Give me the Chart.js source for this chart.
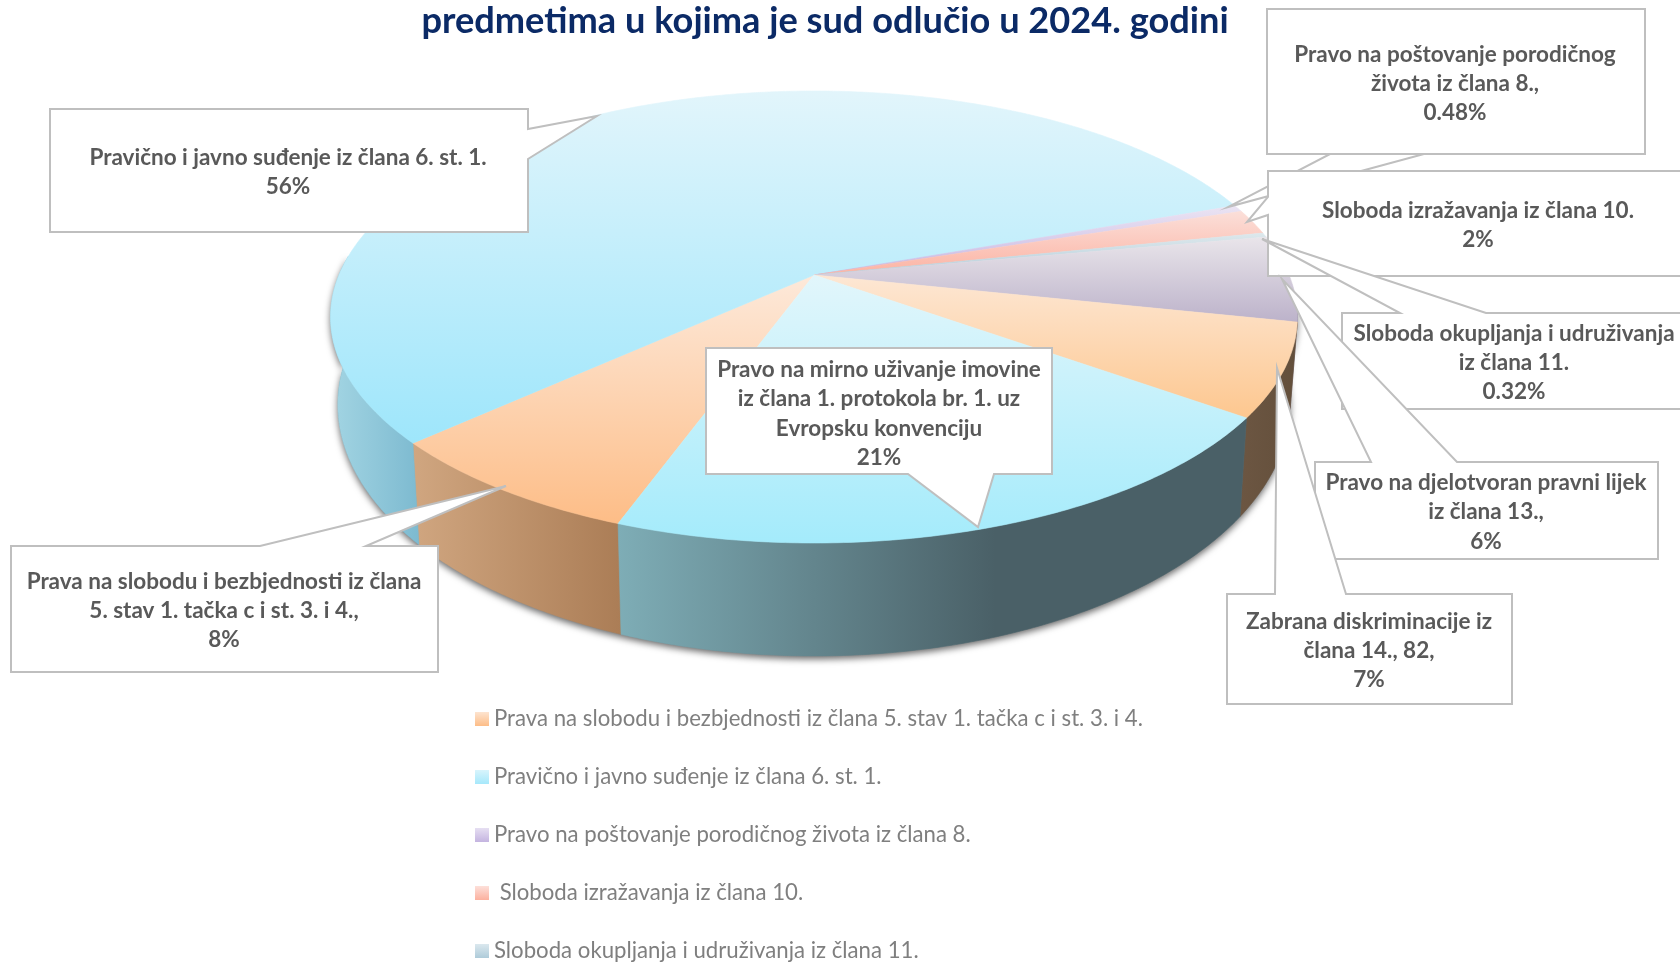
<!DOCTYPE html>
<html>
<head>
<meta charset="utf-8">
<style>
  html, body { margin: 0; padding: 0; background: #fff; overflow: hidden; }
  canvas { display: block; }
</style>
<script src="https://cdn.jsdelivr.net/npm/chart.js@4/dist/chart.umd.js"></script>
</head>
<body>
<canvas id="pieChart" width="1680" height="963"></canvas>
<script>
var titleText = 'predmetima u kojima je sud odlučio u 2024. godini';

var categories = [
  'Prava na slobodu i bezbjednosti iz člana 5. stav 1. tačka c i st. 3. i 4.',
  'Pravično i javno suđenje iz člana 6. st. 1.',
  'Pravo na poštovanje porodičnog života iz člana 8.',
  ' Sloboda izražavanja iz člana 10.',
  'Sloboda okupljanja i udruživanja iz člana 11.',
  'Pravo na djelotvoran pravni lijek iz člana 13.',
  'Zabrana diskriminacije iz člana 14., 82',
  'Pravo na mirno uživanje imovine iz člana 1. protokola br. 1. uz Evropsku konvenciju'
];
// slice sizes; the printed labels are rounded
var sliceValues = [7.7, 56.3, 0.48, 1.8, 0.32, 6.2, 6.6, 20.6];
var percentLabels = ['8%', '56%', '0.48%', '2%', '0.32%', '6%', '7%', '21%'];

// wrapped callout text, same order as categories
var calloutLines = [
  ['Prava na slobodu i bezbjednosti iz člana', '5. stav 1. tačka c i st. 3. i 4.,'],
  ['Pravično i javno suđenje iz člana 6. st. 1.'],
  ['Pravo na poštovanje porodičnog', 'života iz člana 8.,'],
  ['Sloboda izražavanja iz člana 10.'],
  ['Sloboda okupljanja i udruživanja', 'iz člana 11.'],
  ['Pravo na djelotvoran pravni lijek', 'iz člana 13.,'],
  ['Zabrana diskriminacije iz', 'člana 14., 82,'],
  ['Pravo na mirno uživanje imovine', 'iz člana 1. protokola br. 1. uz', 'Evropsku konvenciju']
];

// slice colours
var topLight = ['#fde9da', '#e2f5fb', '#ebe4f3', '#fbdfd9', '#dde8ec', '#e9e5ea', '#fde7d4', '#e2f6fb'];
var topDark = ['#fdbd87', '#9ee6fb', '#c6b6e2', '#fcb3a3', '#b4cedb', '#bcb2ca', '#fdc78f', '#a4ebfb'];
var sideLeft = ['#d0a680', '#a3d5e3', '#8f80a0', '#b08070', '#8aa0aa', '#8a8090', '#6c5642', '#7eadb6'];
var sideRight = ['#ab7d56', '#7dbad0', '#8f80a0', '#b08070', '#8aa0aa', '#8a8090', '#634f3b', '#4a6067'];

// legend swatches
var swatchLight = ['#fde4d0', '#d8f4fc', '#e6dff2', '#fde0da', '#dbe8ee'];
var swatchDark = ['#fdbd87', '#a6e8fb', '#c4b4e0', '#fcb09e', '#aecbd9'];

// callout boxes in draw order: index, box, pointer base and tip, text centre and line ys
var callouts = [
  { i: 1, box: [50, 109, 528, 232], base: [[528, 129], [528, 159]], tip: [597, 116], tx: 288, ys: [158, 187] },
  { i: 2, box: [1267, 9, 1645, 154], base: [[1330, 154], [1424, 154]], tip: [1228, 207], tx: 1455, ys: [55, 84, 113] },
  { i: 3, box: [1268, 171, 1690, 276], base: [[1268, 197], [1268, 215]], tip: [1247, 222], tx: 1478, ys: [211, 240] },
  { i: 4, box: [1342, 313, 1690, 409], base: [[1400, 313], [1486, 313]], tip: [1262, 239], tx: 1514, ys: [334, 363, 392] },
  { i: 5, box: [1315, 462, 1658, 559], base: [[1371, 462], [1457, 462]], tip: [1282, 279], tx: 1486, ys: [483, 512, 542] },
  { i: 6, box: [1227, 594, 1512, 704], base: [[1275, 594], [1346, 594]], tip: [1277, 368], tx: 1369, ys: [622, 651, 680] },
  { i: 7, box: [706, 348, 1052, 474], base: [[994, 474], [908, 474]], tip: [978, 527], tx: 879, ys: [370, 399, 429, 458] },
  { i: 0, box: [11, 546, 438, 672], base: [[260, 546], [366, 546]], tip: [506, 486], tx: 224, ys: [582, 611, 640] }
];

// perspective of the pie disc
var cx = 814, cy = 275, radX = 475, radY = 218.2, persp = 0.1858;
var depth = 83, shrink = 0.985;

function projectTop(angle) {
  var u = Math.cos(angle), v = Math.sin(angle);
  var w = 1 - persp * v;
  return { x: cx + radX * u / w, y: cy + radY * v / w, w: w };
}

function projectBottom(angle) {
  var p = projectTop(angle);
  return { x: cx + (p.x - cx) * shrink, y: p.y + depth / Math.pow(p.w, 1.5) };
}

function arcPoints(start, end, fn) {
  var pts = [];
  var steps = Math.max(2, Math.ceil((end - start) / 0.01));
  for (var s = 0; s <= steps; s++) {
    pts.push(fn(start + (end - start) * s / steps));
  }
  return pts;
}

function tracePts(ctx, pts) {
  pts.forEach(function (p, n) {
    if (n === 0) ctx.moveTo(p.x, p.y); else ctx.lineTo(p.x, p.y);
  });
}

var LO = 5 * Math.PI / 180, HI = 185 * Math.PI / 180;

function drawSides(ctx, arcs) {
  // soft shadow under the whole drum
  ctx.save();
  ctx.shadowColor = 'rgba(0,0,0,0.6)';
  ctx.shadowBlur = 7;
  ctx.shadowOffsetY = 3;
  ctx.fillStyle = '#7a8a90';
  ctx.beginPath();
  tracePts(ctx, arcPoints(LO, HI, projectBottom).concat(arcPoints(LO, HI, projectTop).reverse()));
  ctx.closePath();
  ctx.fill();
  ctx.restore();

  arcs.forEach(function (arc, i) {
    [-2 * Math.PI, 0, 2 * Math.PI].forEach(function (shift) {
      var s = Math.max(arc.startAngle + shift, LO);
      var e = Math.min(arc.endAngle + shift, HI);
      if (s >= e) return;
      var bottom = arcPoints(s, e, projectBottom);
      var top = arcPoints(s, e, projectTop).reverse();
      var all = bottom.concat(top);
      var xs = all.map(function (p) { return p.x; });
      var g = ctx.createLinearGradient(Math.min.apply(null, xs), 0, Math.max.apply(null, xs), 0);
      g.addColorStop(0, sideLeft[i]);
      g.addColorStop(i === 7 ? 0.6 : 1, sideRight[i]);
      if (i === 7) g.addColorStop(1, sideRight[i]);
      ctx.fillStyle = g;
      ctx.strokeStyle = g;
      ctx.lineWidth = 0.6;
      ctx.beginPath();
      tracePts(ctx, all);
      ctx.closePath();
      ctx.fill();
      ctx.stroke();
    });
  });
}

function drawTop(ctx, arcs) {
  arcs.forEach(function (arc, i) {
    var pts = arcPoints(arc.startAngle, arc.endAngle, projectTop);
    var ys = pts.map(function (p) { return p.y; }).concat(cy);
    var g = ctx.createLinearGradient(0, Math.min.apply(null, ys), 0, Math.max.apply(null, ys));
    g.addColorStop(0, topLight[i]);
    g.addColorStop(1, topDark[i]);
    ctx.fillStyle = g;
    ctx.strokeStyle = g;
    ctx.lineWidth = 0.6;
    ctx.beginPath();
    tracePts(ctx, [{ x: cx, y: cy }].concat(pts));
    ctx.closePath();
    ctx.fill();
    ctx.stroke();
  });
}

function drawCallout(ctx, c) {
  var b = c.box;
  var left = b[0], top = b[1], right = b[2], bottom = b[3];
  var a = c.base[0], z = c.base[1];
  var path;
  if (a[0] === right) {
    path = [[left, top], [right, top], a, c.tip, z, [right, bottom], [left, bottom]];
  } else if (a[0] === left) {
    path = [[left, top], [right, top], [right, bottom], [left, bottom], z, c.tip, a];
  } else if (a[1] === top) {
    path = [[left, top], a, c.tip, z, [right, top], [right, bottom], [left, bottom]];
  } else {
    path = [[left, top], [right, top], [right, bottom], a, c.tip, z, [left, bottom]];
  }
  ctx.beginPath();
  path.forEach(function (p, n) {
    if (n === 0) ctx.moveTo(p[0], p[1]); else ctx.lineTo(p[0], p[1]);
  });
  ctx.closePath();
  ctx.fillStyle = '#ffffff';
  ctx.fill();
  ctx.strokeStyle = '#bfbfbf';
  ctx.lineWidth = 2;
  ctx.lineJoin = 'miter';
  ctx.stroke();

  ctx.fillStyle = '#595959';
  ctx.font = 'bold 22.5px Lato';
  ctx.textAlign = 'center';
  ctx.textBaseline = 'middle';
  var lines = calloutLines[c.i].concat(percentLabels[c.i]);
  lines.forEach(function (line, n) {
    ctx.fillText(line, c.tx, c.ys[n]);
  });
}

function drawLegend(ctx, height) {
  ctx.font = '22.2px Lato';
  ctx.textAlign = 'left';
  ctx.textBaseline = 'middle';
  categories.forEach(function (name, i) {
    var y = 719 + i * 58;
    if (y > height) return;
    var g = ctx.createLinearGradient(0, y - 7, 0, y + 7);
    g.addColorStop(0, swatchLight[i]);
    g.addColorStop(1, swatchDark[i]);
    ctx.fillStyle = g;
    ctx.fillRect(475, y - 7, 14, 14);
    ctx.fillStyle = '#7f7f7f';
    ctx.fillText(name, 494, y);
  });
}

var pie3d = {
  id: 'pie3d',
  beforeDatasetDraw: function (chart, args) {
    var ctx = chart.ctx;
    var arcs = chart.getDatasetMeta(args.index).data;
    ctx.save();
    drawSides(ctx, arcs);
    drawTop(ctx, arcs);
    ctx.restore();
    return false;
  },
  afterDatasetsDraw: function (chart) {
    var ctx = chart.ctx;
    ctx.save();
    callouts.forEach(function (c) { drawCallout(ctx, c); });
    drawLegend(ctx, chart.height);
    ctx.restore();
  }
};

var ctx = document.getElementById('pieChart').getContext('2d');
var chart = new Chart(ctx, {
  type: 'pie',
  data: {
    labels: categories,
    datasets: [{
      data: sliceValues,
      backgroundColor: topDark,
      borderWidth: 0
    }]
  },
  options: {
    responsive: false,
    animation: false,
    rotation: 199.9,
    layout: { padding: { right: 30 } },
    plugins: {
      legend: { display: false },
      tooltip: { enabled: false },
      title: {
        display: true,
        fullSize: false,
        text: titleText,
        color: '#0b2a66',
        font: { family: 'Lato', size: 36.2, weight: 'bold' },
        padding: { top: 0, bottom: 0 }
      }
    }
  },
  plugins: [pie3d]
});
</script>
</body>
</html>
